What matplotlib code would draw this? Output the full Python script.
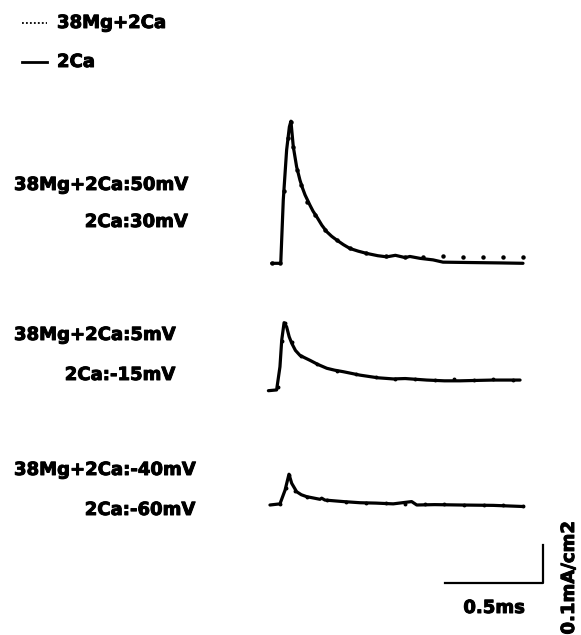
import numpy as np
import matplotlib
matplotlib.use('Agg')
import matplotlib.pyplot as plt
import matplotlib.patheffects as pe
from matplotlib.lines import Line2D

# time (ms) and current density (mA/cm2)
t_ca1 = [0.019, 0.065, 0.078, 0.095, 0.109, 0.117, 0.129, 0.146, 0.163, 0.176, 0.189,
         0.214, 0.230, 0.248, 0.275, 0.300, 0.325, 0.351, 0.385, 0.418, 0.460, 0.504,
         0.560, 0.606, 0.650, 0.700, 0.724, 0.776, 0.842, 0.893, 1.031, 1.184, 1.301]
i_ca1 = [0.0, 0.0, 0.167, 0.298, 0.359, 0.374, 0.307, 0.254, 0.219, 0.198, 0.180,
         0.153, 0.137, 0.123, 0.100, 0.083, 0.071, 0.061, 0.049, 0.039, 0.032, 0.026,
         0.020, 0.017, 0.021, 0.015, 0.018, 0.013, 0.009, 0.003, 0.002, 0.001, 0.0]

t_mg1 = [0.02, 0.06, 0.08, 0.10, 0.117, 0.13, 0.15, 0.17, 0.20, 0.24, 0.29, 0.35,
         0.42, 0.50, 0.60, 0.70, 0.79, 0.893, 0.995, 1.097, 1.199, 1.301]
i_mg1 = [0.0, 0.0, 0.19, 0.33, 0.372, 0.305, 0.245, 0.205, 0.162, 0.126, 0.088, 0.062,
         0.040, 0.027, 0.019, 0.017, 0.016, 0.018, 0.017, 0.017, 0.017, 0.016]

t_ca2 = [0.002, 0.044, 0.061, 0.070, 0.082, 0.095, 0.108, 0.121, 0.140, 0.163, 0.190,
         0.214, 0.255, 0.300, 0.340, 0.384, 0.469, 0.560, 0.639, 0.700, 0.810, 0.900,
         0.980, 1.060, 1.148, 1.286]
i_ca2 = [0.0, 0.002, 0.063, 0.133, 0.179, 0.168, 0.142, 0.125, 0.106, 0.093, 0.086,
         0.080, 0.069, 0.059, 0.054, 0.050, 0.041, 0.034, 0.031, 0.032, 0.028, 0.026,
         0.026, 0.027, 0.028, 0.028]

t_mg2 = [0.05, 0.07, 0.085, 0.12, 0.17, 0.25, 0.35, 0.45, 0.55, 0.65, 0.75, 0.85,
         0.95, 1.05, 1.15, 1.25]
i_mg2 = [0.01, 0.13, 0.178, 0.127, 0.090, 0.070, 0.053, 0.043, 0.035, 0.031, 0.030,
         0.028, 0.031, 0.027, 0.031, 0.029]

t_ca3 = [0.010, 0.061, 0.087, 0.107, 0.121, 0.146, 0.170, 0.197, 0.265, 0.274, 0.290,
         0.384, 0.469, 0.550, 0.639, 0.733, 0.759, 0.850, 0.980, 1.150, 1.303]
i_ca3 = [0.0, 0.003, 0.039, 0.081, 0.057, 0.035, 0.027, 0.022, 0.015, 0.018, 0.013,
         0.009, 0.006, 0.005, 0.003, 0.009, 0.0, 0.001, 0.0, -0.001, -0.004]

t_mg3 = [0.06, 0.09, 0.107, 0.14, 0.20, 0.30, 0.40, 0.50, 0.60, 0.70, 0.80, 0.90,
         1.00, 1.10, 1.20, 1.30]
i_mg3 = [0.003, 0.045, 0.080, 0.038, 0.022, 0.013, 0.009, 0.006, 0.004, 0.003, 0.002,
         0.002, 0.001, 0.001, 0.0, -0.003]

mg_labels = ['38Mg+2Ca:50mV', '38Mg+2Ca:5mV', '38Mg+2Ca:-40mV']
ca_labels = ['2Ca:30mV', '2Ca:-15mV', '2Ca:-60mV']
legend_labels = ['38Mg+2Ca', '2Ca']
scale_t = 0.5     # ms
scale_i = 0.1     # mA/cm2

W, H = 581, 635
PX_MS = 196.0     # pixels per ms
PX_MA = 380.0     # pixels per mA/cm2
X0 = 268.0        # pixel column of t = 0

fig = plt.figure(figsize=(W / 100, H / 100), dpi=100)
ax = fig.add_axes([0, 0, 1, 1])
ax.set_xlim(-X0 / PX_MS, (W - X0) / PX_MS)
ax.set_ylim(0, H / PX_MA)
ax.axis('off')

heavy = [pe.withStroke(linewidth=0.7, foreground='black')]
font = dict(family='DejaVu Sans', weight='bold', size=13, color='black',
            path_effects=heavy)

def ypix(py):
    return (H - py) / PX_MA

baselines = [ypix(263.3), ypix(390.7), ypix(505.0)]
traces = [(t_ca1, i_ca1, t_mg1, i_mg1, 2.2),
          (t_ca2, i_ca2, t_mg2, i_mg2, 1.8),
          (t_ca3, i_ca3, t_mg3, i_mg3, 1.8)]

for base, (tc, ic, tm, im, ms) in zip(baselines, traces):
    ax.plot(tm, np.array(im) + base, ls='none', marker='o', ms=ms, color='black')
    ax.plot(tc, np.array(ic) + base, color='black', lw=2.3,
            solid_joinstyle='round', solid_capstyle='round')

# voltage labels to the left of each trace
label_rows = [(185, 222), (335, 375), (470, 510)]
fig.canvas.draw()
rend = fig.canvas.get_renderer()
for (y1, y2), mg, ca in zip(label_rows, mg_labels, ca_labels):
    t1 = fig.text(14 / W, 1 - y1 / H, mg, ha='left', va='center', **font)
    bb = t1.get_window_extent(rend)
    fig.text(bb.x1 / W, 1 - y2 / H, ca, ha='right', va='center', **font)

# legend
leg_rows = [(23, (0, (1, 1.2)), 1.3), (62, '-', 2.0)]
for (ly, ls, lw), lab in zip(leg_rows, legend_labels):
    fig.add_artist(Line2D([22 / W, 47 / W], [1 - ly / H, 1 - ly / H], ls=ls, lw=lw,
                          color='black', transform=fig.transFigure))
    fig.text(57 / W, 1 - ly / H, lab, ha='left', va='center', **font)

# scale bars
sx1 = (543 - X0) / PX_MS
sx0 = sx1 - scale_t
sy0 = ypix(583)
ax.plot([sx0, sx1, sx1], [sy0, sy0, sy0 + scale_i], color='black', lw=1.6)
ax.text((sx0 + sx1) / 2, ypix(608), '0.5ms', ha='center', va='center', **font)
ax.text((569 - X0) / PX_MS, ypix(578), '0.1mA/cm2', ha='center', va='center',
        rotation=90, **font)

fig.savefig('out.png', dpi=100)
